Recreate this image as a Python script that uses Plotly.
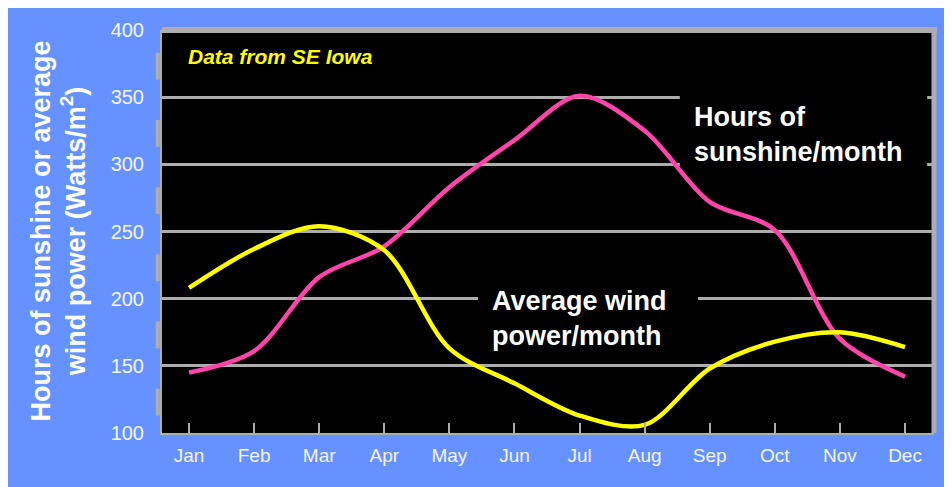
import plotly.graph_objects as go

months = ["Jan", "Feb", "Mar", "Apr", "May", "Jun", "Jul", "Aug", "Sep", "Oct", "Nov", "Dec"]
sunshine = [145, 161, 216, 239, 283, 318, 351, 325, 272, 251, 170, 142]
wind = [208, 237, 254, 236, 163, 137, 113, 106, 148, 168, 175, 164]
y_ticks = [100, 150, 200, 250, 300, 350, 400]

BLUE = "#6692FF"
GRAY = "#ADADAD"
PINK = "#FF44AA"
YEL = "#FFFF00"
FONT = "Liberation Sans, Arial, sans-serif"

x = list(range(len(months)))

fig = go.Figure()
fig.add_trace(go.Scatter(x=x, y=sunshine, mode="lines",
                         line=dict(color=PINK, width=4.5, shape="spline", smoothing=0.9),
                         hoverinfo="skip", showlegend=False))
fig.add_trace(go.Scatter(x=x, y=wind, mode="lines",
                         line=dict(color=YEL, width=4.5, shape="spline", smoothing=0.9),
                         hoverinfo="skip", showlegend=False))

shapes = []
# thick top and right frame
shapes.append(dict(type="line", xref="paper", yref="paper", x0=0, x1=1.004, y0=1.0, y1=1.0,
                   line=dict(color=GRAY, width=6), layer="above"))
shapes.append(dict(type="line", xref="paper", yref="paper", x0=1.0, x1=1.0, y0=0, y1=1.007,
                   line=dict(color=GRAY, width=5), layer="above"))
# left broken segments between major ticks
for a, b in zip(y_ticks[:-1], y_ticks[1:]):
    m = (a + b) / 2 - 2
    shapes.append(dict(type="line", xref="paper", yref="y", x0=-0.0055, x1=-0.0055, y0=m - 10, y1=m + 10,
                       line=dict(color=GRAY, width=4), layer="above"))
# black boxes behind labels (hide gridlines)
shapes.append(dict(type="rect", xref="x", yref="y", x0=7.54, x1=11.34, y0=290, y1=362,
                   fillcolor="black", line=dict(width=0), layer="between"))
shapes.append(dict(type="rect", xref="x", yref="y", x0=4.44, x1=7.82, y0=190, y1=212,
                   fillcolor="black", line=dict(width=0), layer="between"))

annotations = [
    dict(text="Hours of<br>sunshine/month", x=7.72, y=322, xref="x", yref="y",
         xanchor="left", yanchor="middle", align="left", showarrow=False,
         font=dict(family=FONT, size=27, color="white", weight="bold")),
    dict(text="Average wind<br>power/month", x=4.62, y=185, xref="x", yref="y",
         xanchor="left", yanchor="middle", align="left", showarrow=False,
         font=dict(family=FONT, size=27, color="white", weight="bold")),
    dict(text="<b><i>Data from SE Iowa</i></b>", x=-0.05, y=380, xref="x", yref="y",
         xanchor="left", yanchor="middle", align="left", showarrow=False,
         font=dict(family=FONT, size=21, color=YEL)),
    dict(text="Hours of sunshine or average<br>wind power (Watts/m<sup>2</sup>)",
         x=-0.1347, y=0.5, xref="paper", yref="paper", textangle=-90,
         xanchor="center", yanchor="middle", align="center", showarrow=False,
         font=dict(family=FONT, size=27, color="white", weight="bold")),
]

fig.update_layout(
    width=944, height=479,
    margin=dict(l=154, r=18, t=22, b=54, autoexpand=False),
    paper_bgcolor=BLUE, plot_bgcolor="black",
    shapes=shapes, annotations=annotations,
    xaxis=dict(range=[-0.415, 11.445], tickmode="array", tickvals=x, ticktext=months,
               showgrid=False, zeroline=False, showline=True, linecolor=GRAY, linewidth=2,
               ticks="inside", ticklen=10, tickwidth=2, tickcolor=GRAY,
               ticklabelstandoff=4,
               tickfont=dict(family=FONT, size=19, color="#F4F4FF")),
    yaxis=dict(range=[100, 400], tickmode="array", tickvals=y_ticks,
               showgrid=True, gridcolor=GRAY, gridwidth=2.5, zeroline=False,
               showline=True, linecolor=GRAY, linewidth=2, ticks="",
               ticklabelstandoff=12,
               tickfont=dict(family=FONT, size=20, color="#F4F4FF")),
)

fig.write_html("out.html")
